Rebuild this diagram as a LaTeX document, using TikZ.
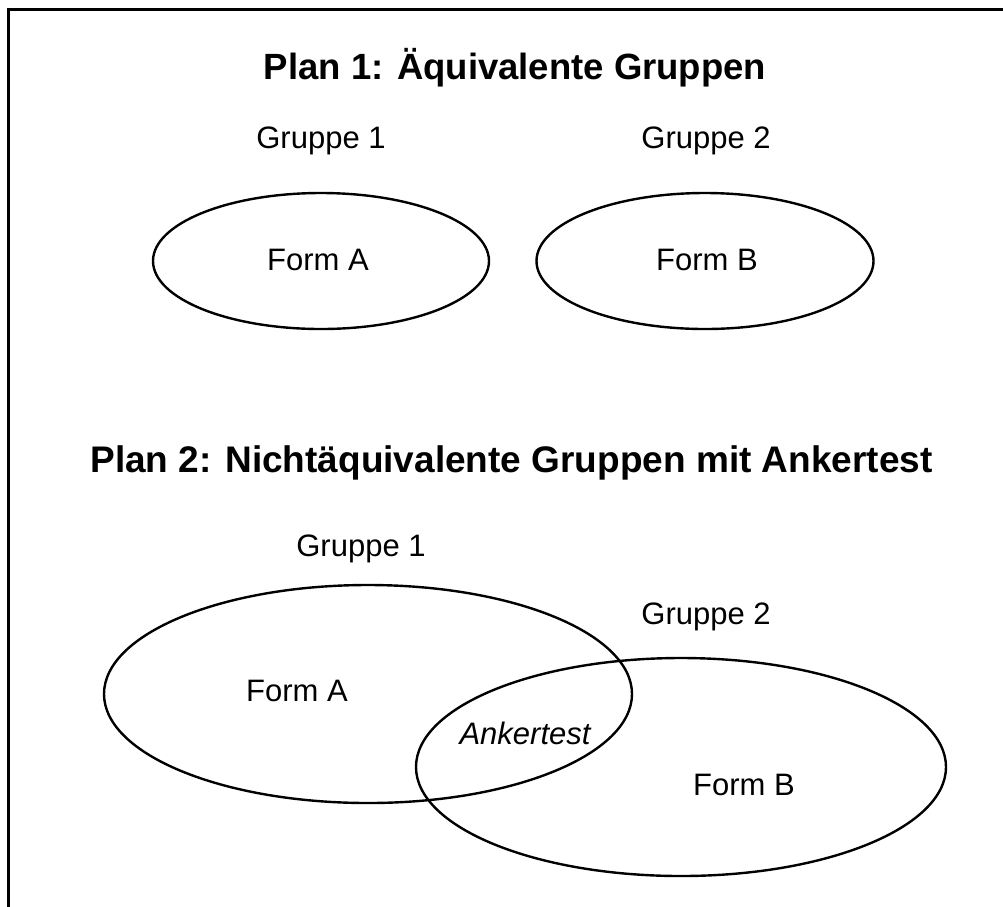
\documentclass[tikz,border=0pt]{standalone}
\usepackage{fontspec}
\setmainfont{Liberation Sans}
\usetikzlibrary{shapes.geometric}
\tikzset{
  ell/.style={draw, ellipse, line width=2.4pt, inner sep=0pt, outer sep=0pt},
  ttl/.style={anchor=base, inner sep=0pt, font=\fontsize{36.5}{44}\selectfont\bfseries},
  ttlb/.style={anchor=base, inner sep=0pt, font=\fontsize{37}{44}\selectfont\bfseries},
  lbl/.style={anchor=base, inner sep=0pt, font=\fontsize{31}{37}\selectfont},
  ilbl/.style={anchor=base, inner sep=0pt, font=\fontsize{31}{37}\selectfont\itshape},
  frame/.style={line width=3pt}
}
\begin{document}
\begin{tikzpicture}[x=1pt,y=-1pt]
\useasboundingbox (0,0) rectangle (1003,906);
% frame (cropped rectangle: only left and top sides visible)
\coordinate (fbl) at (8.7,910);
\coordinate (ftl) at (8.7,9.5);
\coordinate (ftr) at (1010,9.5);
\draw[frame] (fbl) -- (ftl) -- (ftr);

% Plan 1
\node[ttl] (t1) at (515,79) {Plan 1: Äquivalente Gruppen};
\node[lbl] (g11) at (321,148) {Gruppe 1};
\node[lbl] (g12) at (706,148) {Gruppe 2};
\node[ell, minimum width=336, minimum height=136] (e11) at (321,261) {};
\node[ell, minimum width=337, minimum height=136] (e12) at (705,261) {};
\node[lbl] (fa1) at (318,270) {Form A};
\node[lbl] (fb1) at (707,270) {Form B};

% Plan 2
\node[ttlb] (t2) at (511.5,472) {Plan 2: Nichtäquivalente Gruppen mit Ankertest};
\node[lbl] (g21) at (361,556) {Gruppe 1};
\node[lbl] (g22) at (706,624) {Gruppe 2};
\node[ell, minimum width=528, minimum height=218] (e21) at (368,694) {};
\node[ell, minimum width=530, minimum height=218] (e22) at (681,767) {};
\node[lbl] (fa2) at (297,701) {Form A};
\node[ilbl] (ank) at (525,744) {Ankertest};
\node[lbl] (fb2) at (744,795) {Form B};
\end{tikzpicture}
\end{document}
